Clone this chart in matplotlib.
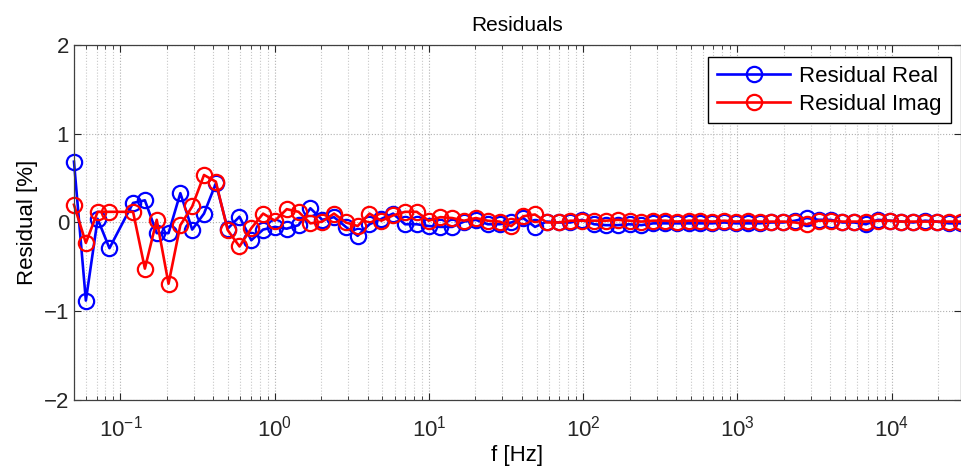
import matplotlib
matplotlib.use('Agg')
import matplotlib.pyplot as plt
import matplotlib.ticker as mtick

plt.rcParams['font.family'] = ['Liberation Sans', 'DejaVu Sans']
plt.rcParams['mathtext.fontset'] = 'custom'
plt.rcParams['mathtext.rm'] = 'Liberation Sans'
plt.rcParams['mathtext.it'] = 'Liberation Sans'

# frequencies [Hz] (point near 0.1 Hz is missing)
freq = [0.0500, 0.0597, 0.0712, 0.0849, 0.1208, 0.1441, 0.1720, 0.2051,
        0.2447, 0.2920, 0.3483, 0.4156, 0.4958, 0.5915, 0.7057, 0.8418,
        1.004, 1.198, 1.429, 1.705, 2.034, 2.427, 2.895, 3.454, 4.121,
        4.916, 5.865, 6.998, 8.349, 9.96, 11.88, 14.17, 16.91, 20.17,
        24.07, 28.71, 34.25, 40.87, 48.75, 58.17, 69.39, 82.79, 98.7,
        117.8, 140.6, 167.7, 200.1, 238.7, 284.8, 339.6, 405.2, 483.5,
        576.8, 688.2, 821.0, 979.1, 1168, 1394, 1663, 1984, 2366, 2823,
        3368, 4018, 4794, 5719, 6823, 8140, 9710, 11580, 13820, 16490,
        19670, 23470, 27990]

res_real = [0.685, -0.88, 0.04, -0.29, 0.22, 0.25, -0.12, -0.12,
            0.33, -0.08, 0.10, 0.44, -0.07, 0.065, -0.20, -0.08,
            -0.05, -0.07, -0.03, 0.16, 0.03, 0.06, -0.05, -0.15, -0.02,
            0.04, 0.10, -0.02, -0.02, -0.04, -0.05, -0.05, 0.01, 0.03,
            -0.02, -0.02, 0.00, 0.05, -0.05, 0.01, 0.00, 0.00, 0.03,
            -0.02, -0.03, -0.03, -0.02, -0.03, -0.01, -0.01, -0.01, -0.01,
            -0.01, -0.01, 0.00, -0.01, -0.01, -0.01, 0.00, 0.00, 0.02, 0.05,
            0.03, 0.03, 0.00, 0.00, -0.02, 0.03, 0.02, 0.01, 0.00, 0.02,
            0.01, -0.01, -0.01]

res_imag = [0.20, -0.23, 0.12, 0.12, 0.12, -0.52, 0.03, -0.69,
            -0.03, 0.18, 0.535, 0.46, -0.085, -0.27, -0.065, 0.10,
            0.02, 0.15, 0.12, -0.01, 0.01, 0.10, 0.00, -0.04, 0.10,
            0.02, 0.08, 0.12, 0.12, 0.02, 0.06, 0.05, 0.02, 0.05,
            0.02, 0.01, -0.04, 0.07, 0.09, 0.00, 0.00, 0.02, 0.02,
            0.02, 0.02, 0.03, 0.02, 0.01, 0.02, 0.02, 0.01, 0.02,
            0.02, 0.01, 0.02, 0.01, 0.02, 0.01, 0.01, 0.01, 0.00, -0.02,
            0.02, 0.02, 0.01, 0.01, 0.01, 0.02, 0.02, 0.01, 0.01, 0.01,
            0.01, 0.01, 0.01]

fig = plt.figure(figsize=(9.62, 4.70), dpi=100)
ax = fig.add_axes([0.0769, 0.149, 0.9216, 0.7553])

ax.plot(freq, res_real, '-o', color='b', lw=1.9, ms=11, mew=1.6,
        mfc='none', label='Residual Real', clip_on=False)
ax.plot(freq, res_imag, '-o', color='r', lw=1.9, ms=11, mew=1.6,
        mfc='none', label='Residual Imag', clip_on=False)

ax.set_xscale('log')
ax.set_xlim(0.05, 28000)
ax.set_ylim(-2, 2)
ax.set_yticks([-2, -1, 0, 1, 2])
ax.xaxis.set_minor_locator(mtick.LogLocator(base=10, subs=range(2, 10), numticks=20))
ax.xaxis.set_minor_formatter(mtick.NullFormatter())

ax.grid(True, which='major', ls=':', color='#b0b0b0', lw=0.8)
ax.grid(True, which='minor', axis='x', ls=':', color='#c8c8c8', lw=0.8)

ax.tick_params(which='both', direction='in', top=True, right=True,
               labelsize=16, colors='#262626')
ax.tick_params(which='major', length=5)
ax.tick_params(which='minor', length=3)
ax.tick_params(axis='x', pad=11)
for s in ax.spines.values():
    s.set_color('#404040')
    s.set_linewidth(0.9)

ax.set_title('Residuals', fontsize=15, pad=10)
ax.set_xlabel('f [Hz]', fontsize=16, labelpad=3)
ax.set_ylabel('Residual [%]', fontsize=16, labelpad=4)

leg = ax.legend(loc='upper right', fontsize=16, fancybox=False,
                edgecolor='black', framealpha=1, borderpad=0.4,
                handlelength=3.3, handletextpad=0.4, labelspacing=0.3,
                borderaxespad=0, bbox_to_anchor=(0.9887, 0.966))
leg.get_frame().set_linewidth(1.0)

fig.savefig('out.png', dpi=100)
